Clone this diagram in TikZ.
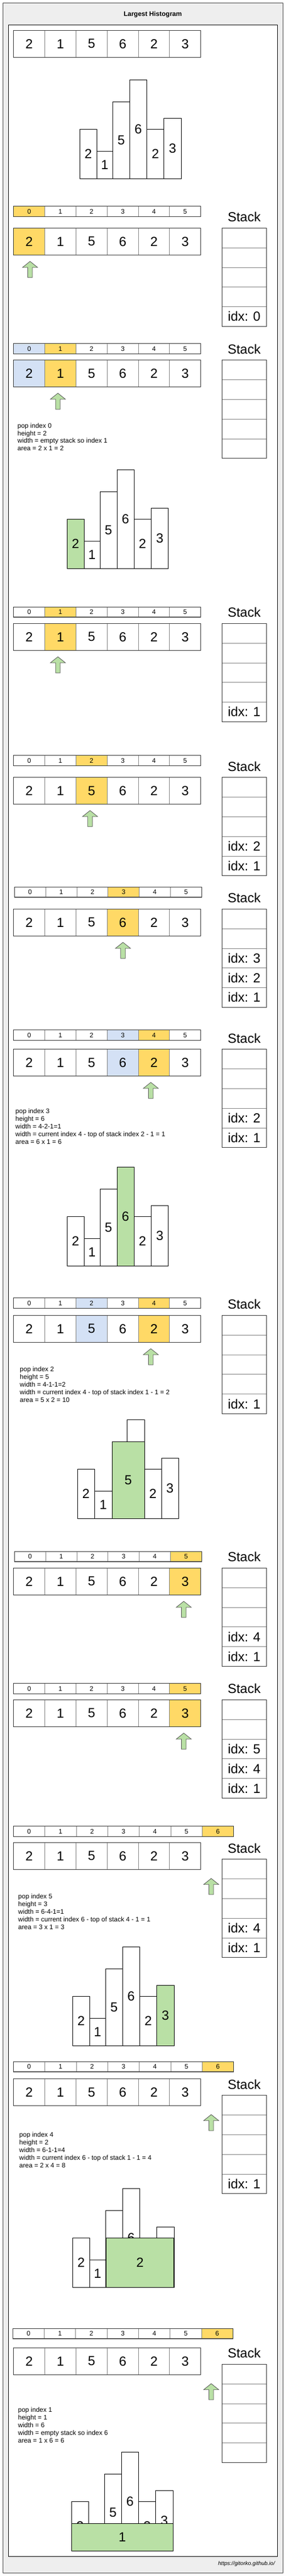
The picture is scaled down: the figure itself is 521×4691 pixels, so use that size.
\documentclass[tikz,border=0pt]{standalone}
\usepackage{fontspec}
\setmainfont{Liberation Sans}
\definecolor{bgray}{HTML}{EEEEEE}
\definecolor{yel}{HTML}{FFD966}
\definecolor{blu}{HTML}{D4E1F5}
\definecolor{grn}{HTML}{B9E0A5}
\definecolor{dark}{HTML}{333333}
\definecolor{mid}{HTML}{808080}
\tikzset{
  cellbox/.style={draw=mid, line width=0.8pt, inner sep=0pt, outer sep=0pt, text=black},
  idxfont/.style={font=\fontsize{12}{14}\selectfont},
  bigfont/.style={font=\fontsize{24}{28}\selectfont},
  stackcell/.style={cellbox, bigfont, fill=white, minimum width=81, minimum height=35.8, anchor=north west},
  stacklabel/.style={bigfont, inner sep=0pt},
  barnode/.style={draw=black, fill=white, line width=0.9pt, inner sep=0pt, outer sep=0pt, anchor=south west, font=\fontsize{24}{28}\selectfont},
  infotext/.style={font=\fontsize{12}{14}\selectfont, inner sep=0pt, anchor=base west},
  ptr/.style={draw=dark!85, fill=grn, line width=0.8pt, line join=miter},
}
% name, x0, ytop, cellw, h, style, count, list fill/text
\newcommand\cellrow[8]{%
  \foreach \cellfill/\celltxt [count=\i from 0] in {#8} {
    \node[cellbox,#6,fill=\cellfill,minimum width=#4,minimum height=#5,anchor=north west] (#1-\i) at ({#2+\i*#4},#3) {\celltxt};
  }
  \draw[dark,line width=1pt] (#2,#3) rectangle ({#2+#7*#4},{#3+#5});
}
\newcommand\arrrow[3]{\cellrow{#1}{24.7}{#2}{56.83}{49}{bigfont}{6}{#3}}
\newcommand\idxrow[3]{\cellrow{#1}{24.7}{#2}{56.83}{18.6}{idxfont}{6}{#3}}
% name, ytop, five texts
\newcommand\stackbox[7]{%
  \node[stacklabel] (#1-label) at (444.8,{#2-20}) {Stack};
  \node[stackcell] (#1-0) at (404.3,#2) {#3};
  \node[stackcell] (#1-1) at (404.3,{#2+35.8}) {#4};
  \node[stackcell] (#1-2) at (404.3,{#2+71.6}) {#5};
  \node[stackcell] (#1-3) at (404.3,{#2+107.4}) {#6};
  \node[stackcell] (#1-4) at (404.3,{#2+143.2}) {#7};
  \draw[dark,line width=1pt] (404.3,#2) rectangle (485.3,{#2+179});
}
% name, xleft, ytop
\newcommand\pointer[3]{%
  \coordinate (#1) at (#2,#3);
  \draw[ptr,shift={(#1)}] (13.75,0) -- (27.5,11) -- (18,11) -- (18,29.3) -- (9.5,29.3) -- (9.5,11) -- (0,11) -- cycle;
}
% name, x, first baseline, spacing, lines
\newcommand\info[5]{%
  \foreach \infoline [count=\k from 0] in {#5} {
    \node[infotext] (#1-\k) at (#2,{#3+\k*#4}) {\infoline};
  }
}
% name, x0, ybottom, green index
\newcommand\histo[4]{%
  \foreach \barx/\barw/\barh/\bartxt [count=\i from 0] in {0/31/90/2,31/29/50/1,60/31/140/5,91/31/180/6,122/31.3/90/2,153.3/31.4/110/3} {
    \ifnum\i=#4\relax\def\barfill{grn}\else\def\barfill{white}\fi
    \node[barnode,fill=\barfill,minimum width=\barw,minimum height=\barh] (#1-\i) at ({#2+\barx},#3) {\bartxt};
  }
}
\begin{document}
\begin{tikzpicture}[x=1pt,y=-1pt]
\useasboundingbox (0,0) rectangle (521,4691);
% frames
\draw[draw=dark!90,fill=bgray,line width=1pt] (5,5.7) rectangle (515.7,4685.3);
\draw[draw=black,fill=white,line width=1pt] (15.3,45.3) rectangle (505.7,4655.3);
\node[font=\bfseries\fontsize{12}{14}\selectfont] (title) at (278.3,26) {Largest Histogram};
\node[font=\itshape\fontsize{10}{12}\selectfont, anchor=east, inner sep=0pt] (url) at (501,4669.3) {https://gitorko.github.io/};

% ---------- overview ----------
\arrrow{a0}{55.3}{white/2,white/1,white/5,white/6,white/2,white/3}
\histo{h1}{145.3}{325.3}{-1}

% ---------- step 1 ----------
\idxrow{i1}{375.7}{yel/0,white/1,white/2,white/3,white/4,white/5}
\arrrow{a1}{415.3}{yel/2,white/1,white/5,white/6,white/2,white/3}
\stackbox{s1}{415.3}{}{}{}{}{idx: 0}
\pointer{p1}{41}{476}

% ---------- step 2 ----------
\idxrow{i2}{625.7}{blu/0,yel/1,white/2,white/3,white/4,white/5}
\arrrow{a2}{655.7}{blu/2,yel/1,white/5,white/6,white/2,white/3}
\stackbox{s2}{655.7}{}{}{}{}{}
\pointer{p2}{91.7}{716}
\info{t2}{31.7}{779.3}{13.7}{pop index 0,height = 2,width = empty stack so index 1,area = 2 x 1 = 2}
\histo{h2}{122}{1035.3}{0}

% ---------- step 3 ----------
\idxrow{i3}{1105.3}{white/0,yel/1,white/2,white/3,white/4,white/5}
\arrrow{a3}{1135.3}{white/2,yel/1,white/5,white/6,white/2,white/3}
\stackbox{s3}{1135.3}{}{}{}{}{idx: 1}
\pointer{p3}{91.7}{1196}

% ---------- step 4 ----------
\idxrow{i4}{1375.7}{white/0,white/1,yel/2,white/3,white/4,white/5}
\arrrow{a4}{1415.7}{white/2,white/1,yel/5,white/6,white/2,white/3}
\stackbox{s4}{1415.7}{}{}{}{idx: 2}{idx: 1}
\pointer{p4}{150.3}{1476}

% ---------- step 5 ----------
\cellrow{i5}{26.3}{1615.3}{56.83}{18.6}{idxfont}{6}{white/0,white/1,white/2,yel/3,white/4,white/5}
\arrrow{a5}{1655.3}{white/2,white/1,white/5,yel/6,white/2,white/3}
\stackbox{s5}{1655.3}{}{}{idx: 3}{idx: 2}{idx: 1}
\pointer{p5}{210.3}{1716}

% ---------- step 6 ----------
\idxrow{i6}{1875.7}{white/0,white/1,white/2,blu/3,yel/4,white/5}
\arrrow{a6}{1910.7}{white/2,white/1,white/5,blu/6,yel/2,white/3}
\stackbox{s6}{1910.7}{}{}{}{idx: 2}{idx: 1}
\pointer{p6}{261}{1971}
\info{t6}{28}{2027}{14}{pop index 3,height = 6,width = 4-2-1=1,width = current index 4 - top of stack index 2 - 1 = 1,area = 6 x 1 = 6}
\histo{h3}{122}{2305}{3}

% ---------- step 7 ----------
\idxrow{i7}{2363.7}{white/0,white/1,blu/2,white/3,yel/4,white/5}
\arrrow{a7}{2395.3}{white/2,white/1,blu/5,white/6,yel/2,white/3}
\stackbox{s7}{2395.3}{}{}{}{}{idx: 1}
\pointer{p7}{261}{2456}
\info{t7}{36}{2497}{14}{pop index 2,height = 5,width = 4-1-1=2,width = current index 4 - top of stack index 1 - 1 = 2,area = 5 x 2 = 10}
\node[barnode,minimum width=31,minimum height=90] (h4-0) at (141,2765.3) {2};
\node[barnode,minimum width=32.3,minimum height=50] (h4-1) at (172,2765.3) {1};
\node[barnode,minimum width=31.3,minimum height=180] (h4-3) at (231.7,2765.3) {6};
\node[barnode,minimum width=31,minimum height=90] (h4-4) at (263,2765.3) {2};
\node[barnode,minimum width=31.3,minimum height=110] (h4-5) at (294,2765.3) {3};
\node[barnode,fill=grn,minimum width=58.7,minimum height=140] (h4-2) at (204.3,2765.3) {5};

% ---------- step 8 ----------
\cellrow{i8}{26.3}{2825.3}{56.83}{18.6}{idxfont}{6}{white/0,white/1,white/2,white/3,white/4,yel/5}
\arrrow{a8}{2855.3}{white/2,white/1,white/5,white/6,white/2,yel/3}
\stackbox{s8}{2855.3}{}{}{}{idx: 4}{idx: 1}
\pointer{p8}{321}{2916}

% ---------- step 9 ----------
\idxrow{i9}{3065.7}{white/0,white/1,white/2,white/3,white/4,yel/5}
\arrrow{a9}{3095.3}{white/2,white/1,white/5,white/6,white/2,yel/3}
\stackbox{s9}{3095.3}{}{}{idx: 5}{idx: 4}{idx: 1}
\pointer{p9}{321}{3156}

% ---------- step 10 ----------
\cellrow{i10}{24.3}{3325.7}{57.34}{18.6}{idxfont}{7}{white/0,white/1,white/2,white/3,white/4,white/5,yel/6}
\arrrow{a10}{3355.3}{white/2,white/1,white/5,white/6,white/2,white/3}
\stackbox{s10}{3385.7}{}{}{}{idx: 4}{idx: 1}
\pointer{p10}{371}{3420.7}
\info{t10}{33}{3457}{14}{pop index 5,height = 3,width = 6-4-1=1,width = current index 6 - top of stack 4 - 1 = 1,area = 3 x 1 = 3}
\histo{h5}{132.3}{3725.3}{5}

% ---------- step 11 ----------
\cellrow{i11}{24.3}{3754.3}{57.34}{18.6}{idxfont}{7}{white/0,white/1,white/2,white/3,white/4,white/5,yel/6}
\arrrow{a11}{3785.7}{white/2,white/1,white/5,white/6,white/2,white/3}
\stackbox{s11}{3815.7}{}{}{}{}{idx: 1}
\pointer{p11}{371}{3850.7}
\info{t11}{35}{3891.6}{14}{pop index 4,height = 2,width = 6-1-1=4,width = current index 6 - top of stack 1 - 1 = 4,area = 2 x 4 = 8}
\histo{h6}{132.3}{4165.3}{-1}
\node[barnode,fill=grn,minimum width=123.4,minimum height=90] (h6-g) at (193.3,4165.3) {2};

% ---------- step 12 ----------
\cellrow{i12}{23.3}{4240.3}{57.29}{18.6}{idxfont}{7}{white/0,white/1,white/2,white/3,white/4,white/5,yel/6}
\arrrow{a12}{4275.3}{white/2,white/1,white/5,white/6,white/2,white/3}
\stackbox{s12}{4305.3}{}{}{}{}{}
\pointer{p12}{371}{4340.7}
\info{t12}{32.7}{4392}{14}{pop index 1,height = 1,width = 6,width = empty stack so index 6,area = 1 x 6 = 6}
\histo{h7}{130.3}{4645.3}{-1}
\node[barnode,fill=grn,minimum width=185,minimum height=50] (h7-g) at (130.3,4645.3) {1};
\end{tikzpicture}
\end{document}
